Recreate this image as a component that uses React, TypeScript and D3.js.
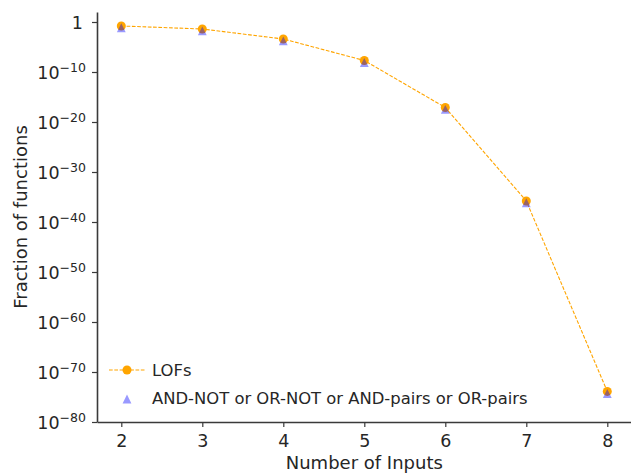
import React, { useEffect, useRef } from 'react';
import * as d3 from 'd3';

const inputs = [2, 3, 4, 5, 6, 7, 8];
const lofFraction = [1.6e-1, 4e-2, 4e-4, 2e-8, 8e-18, 1.6e-36, 1.3e-74];
const gateFraction = [7e-2, 1.7e-2, 1.7e-4, 8e-9, 3.5e-18, 7e-37, 5e-75];
const xTicks = [2, 3, 4, 5, 6, 7, 8];
const yTickExps = [0, -10, -20, -30, -40, -50, -60, -70, -80];

const legendLabels = ['LOFs', 'AND-NOT or OR-NOT or AND-pairs or OR-pairs'];

// matplotlib-style '^' marker: as tall as it is wide
const triangle = (r: number) => `M0,${-r}L${r},${r}L${-r},${r}Z`;

const App = () => {
  const ref = useRef<SVGSVGElement>(null);

  useEffect(() => {
    const svg = d3.select(ref.current);
    const width = 631;
    const height = 473;
    const marginLeft = 97;
    const marginTop = 12;
    const plotBottom = 422;
    const font = 'DejaVu Sans, sans-serif';
    const ink = '#262626';
    const spine = '#3a3a3a';

    svg.selectAll('*').remove();

    const x = d3.scaleLinear().domain([1.7, 8.3]).range([marginLeft, marginLeft + 6.6 * 81]);
    const y = d3.scaleLog().domain([1e-80, 1e2]).range([plotBottom, marginTop]);

    // x axis
    const gx = svg.append('g').attr('transform', `translate(0,${plotBottom})`);
    gx.call(d3.axisBottom(x).tickValues(xTicks).tickSize(5).tickSizeOuter(0).tickFormat(d3.format('d')));
    gx.select('.domain').attr('stroke', spine).attr('stroke-width', 1.6);
    gx.selectAll('.tick line').attr('stroke', spine).attr('stroke-width', 1.2);
    gx.selectAll('.tick text')
      .attr('font-family', font).attr('font-size', 17.5).attr('fill', ink).attr('dy', '0.95em');

    // y axis
    const gy = svg.append('g').attr('transform', `translate(${marginLeft},0)`);
    gy.call(d3.axisLeft(y).tickValues(yTickExps.map(e => Math.pow(10, e))).tickSize(5).tickSizeOuter(0).tickFormat(() => ''));
    gy.select('.domain').attr('stroke', spine).attr('stroke-width', 1.6);
    gy.selectAll('.tick line').attr('stroke', spine).attr('stroke-width', 1.2);

    const yl = svg.append('g')
      .attr('font-family', font).attr('fill', ink).attr('text-anchor', 'end');
    yTickExps.forEach(e => {
      const ty = y(Math.pow(10, e));
      if (e === 0) {
        yl.append('text').attr('x', 83).attr('y', ty + 6.5).attr('font-size', 17.5).text('1');
      } else {
        const t = yl.append('text').attr('x', 86).attr('y', ty + 7);
        t.append('tspan').attr('font-size', 17.5).text('10');
        t.append('tspan').attr('font-size', 12.5).attr('dy', -7.5).text(`\u2212${-e}`);
      }
    });

    // axis titles
    svg.append('text')
      .attr('x', x(5)).attr('y', 469)
      .attr('text-anchor', 'middle').attr('font-family', font).attr('font-size', 18).attr('fill', ink)
      .text('Number of Inputs');
    svg.append('text')
      .attr('transform', `translate(27,${(marginTop + plotBottom) / 2}) rotate(-90)`)
      .attr('text-anchor', 'middle').attr('font-family', font).attr('font-size', 18).attr('fill', ink)
      .text('Fraction of functions');

    // LOF line + markers
    const pts = inputs.map((n, i) => [n, lofFraction[i]] as [number, number]);
    svg.append('path')
      .datum(pts)
      .attr('fill', 'none')
      .attr('stroke', 'orange')
      .attr('stroke-width', 1.1)
      .attr('stroke-dasharray', '3.7,1.6')
      .attr('d', d3.line<[number, number]>().x(d => x(d[0])).y(d => y(d[1])));

    svg.append('g')
      .selectAll('circle')
      .data(pts)
      .join('circle')
      .attr('cx', d => x(d[0]))
      .attr('cy', d => y(d[1]))
      .attr('r', 4.5)
      .attr('fill', 'orange');

    svg.append('g')
      .selectAll('path')
      .data(inputs.map((n, i) => [n, gateFraction[i]] as [number, number]))
      .join('path')
      .attr('transform', d => `translate(${x(d[0])},${y(d[1])})`)
      .attr('d', triangle(4.4))
      .attr('fill', 'blue')
      .attr('fill-opacity', 0.4);

    // legend
    const lg = svg.append('g').attr('font-family', font).attr('font-size', 16.4).attr('fill', ink);
    lg.append('line')
      .attr('x1', 109).attr('x2', 145).attr('y1', 370).attr('y2', 370)
      .attr('stroke', 'orange').attr('stroke-width', 1.1).attr('stroke-dasharray', '3.7,1.6');
    lg.append('circle').attr('cx', 127).attr('cy', 370).attr('r', 4.5).attr('fill', 'orange');
    lg.append('text').attr('x', 152).attr('y', 376).text(legendLabels[0]);
    lg.append('path')
      .attr('transform', 'translate(127,399)')
      .attr('d', triangle(4.4))
      .attr('fill', 'blue')
      .attr('fill-opacity', 0.4);
    lg.append('text').attr('x', 152).attr('y', 404).text(legendLabels[1]);

    svg.attr('width', width).attr('height', height);
  }, []);

  return (
    <svg ref={ref} width={631} height={473} style={{ position: 'absolute', left: 0, top: 0, background: '#fff' }}></svg>
  );
};

export default App;
